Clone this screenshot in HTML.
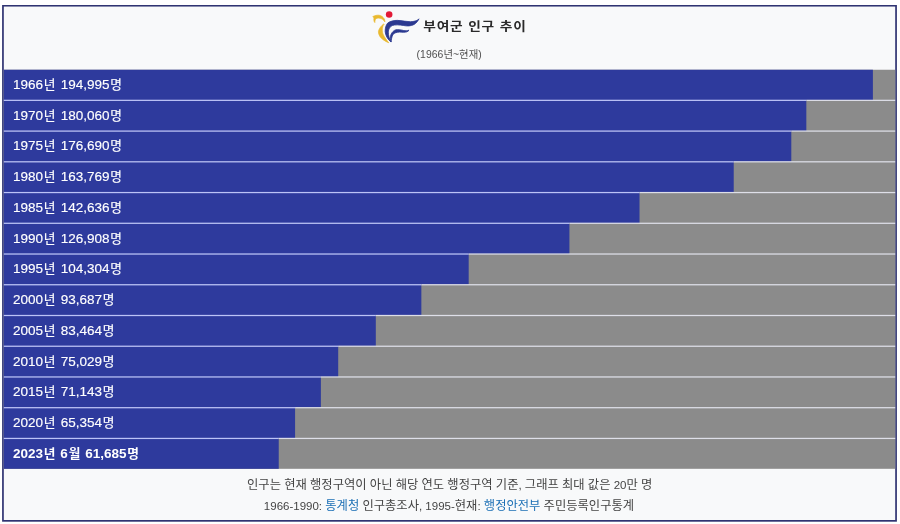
<!DOCTYPE html>
<html lang="ko"><head><meta charset="utf-8"><title>부여군 인구 추이</title>
<style>
html,body{margin:0;padding:0;background:#fff;}
body{width:900px;height:524px;position:relative;overflow:hidden;font-family:"Liberation Sans","Noto Sans CJK KR",sans-serif;}
#chart{position:absolute;left:0;top:0;}
.lbl{position:absolute;left:12.9px;height:29.3px;line-height:29.3px;color:#fff;font-size:13.5px;word-spacing:1.2px;white-space:nowrap;-webkit-text-stroke:0.15px #fff;}
.lbl .k{font-size:12.7px;margin-left:0.75px;letter-spacing:0.45px;}
.b{font-weight:bold;word-spacing:0.8px;-webkit-text-stroke:0;}
#title{position:absolute;left:423.2px;top:16.2px;font-size:13.7px;font-weight:bold;color:#2a2a2a;line-height:22px;white-space:nowrap;letter-spacing:0.85px;transform:scaleY(0.9);transform-origin:left center;}
#sub{position:absolute;left:-0.8px;width:900px;text-align:center;top:47.5px;font-size:10.4px;color:#505050;line-height:14px;letter-spacing:0.05px;}
.ft{position:absolute;left:0;width:900px;text-align:center;font-size:11.5px;color:#444;line-height:16px;white-space:nowrap;}
.ft a{color:#1b6fb5;text-decoration:none;}
.ft .k{font-size:12.3px;}
</style></head><body>
<svg id="chart" width="900" height="524" viewBox="0 0 900 524">
<rect x="2.1" y="5.0" width="894.80" height="516.70" fill="#2f3372"/>
<rect x="3.80" y="6.55" width="891.40" height="513.45" fill="#f8f9fa"/>
<rect x="3.80" y="69.75" width="891.40" height="399.05" fill="#8b8b8b"/>
<rect x="3.80" y="69.75" width="869.09" height="30.60" fill="#2e3a9d"/>
<rect x="3.80" y="100.35" width="802.53" height="30.73" fill="#2e3a9d"/>
<rect x="3.80" y="131.08" width="787.51" height="30.74" fill="#2e3a9d"/>
<rect x="3.80" y="161.82" width="729.92" height="30.74" fill="#2e3a9d"/>
<rect x="3.80" y="192.56" width="635.73" height="30.73" fill="#2e3a9d"/>
<rect x="3.80" y="223.29" width="565.63" height="30.74" fill="#2e3a9d"/>
<rect x="3.80" y="254.03" width="464.88" height="30.73" fill="#2e3a9d"/>
<rect x="3.80" y="284.76" width="417.56" height="30.74" fill="#2e3a9d"/>
<rect x="3.80" y="315.50" width="372.00" height="30.74" fill="#2e3a9d"/>
<rect x="3.80" y="346.23" width="334.40" height="30.74" fill="#2e3a9d"/>
<rect x="3.80" y="376.97" width="317.08" height="30.74" fill="#2e3a9d"/>
<rect x="3.80" y="407.70" width="291.28" height="30.73" fill="#2e3a9d"/>
<rect x="3.80" y="438.43" width="274.93" height="30.37" fill="#2e3a9d"/>
<rect x="3.80" y="99.72" width="802.53" height="1.25" fill="#bcc3f7"/>
<rect x="806.33" y="99.72" width="88.87" height="1.25" fill="#dedfe8"/>
<rect x="3.80" y="130.46" width="787.51" height="1.25" fill="#bcc3f7"/>
<rect x="791.31" y="130.46" width="103.89" height="1.25" fill="#dedfe8"/>
<rect x="3.80" y="161.19" width="729.92" height="1.25" fill="#bcc3f7"/>
<rect x="733.72" y="161.19" width="161.48" height="1.25" fill="#dedfe8"/>
<rect x="3.80" y="191.93" width="635.73" height="1.25" fill="#bcc3f7"/>
<rect x="639.53" y="191.93" width="255.67" height="1.25" fill="#dedfe8"/>
<rect x="3.80" y="222.66" width="565.63" height="1.25" fill="#bcc3f7"/>
<rect x="569.43" y="222.66" width="325.77" height="1.25" fill="#dedfe8"/>
<rect x="3.80" y="253.40" width="464.88" height="1.25" fill="#bcc3f7"/>
<rect x="468.68" y="253.40" width="426.52" height="1.25" fill="#dedfe8"/>
<rect x="3.80" y="284.13" width="417.56" height="1.25" fill="#bcc3f7"/>
<rect x="421.36" y="284.13" width="473.84" height="1.25" fill="#dedfe8"/>
<rect x="3.80" y="314.87" width="372.00" height="1.25" fill="#bcc3f7"/>
<rect x="375.80" y="314.87" width="519.40" height="1.25" fill="#dedfe8"/>
<rect x="3.80" y="345.61" width="334.40" height="1.25" fill="#bcc3f7"/>
<rect x="338.20" y="345.61" width="557.00" height="1.25" fill="#dedfe8"/>
<rect x="3.80" y="376.34" width="317.08" height="1.25" fill="#bcc3f7"/>
<rect x="320.88" y="376.34" width="574.32" height="1.25" fill="#dedfe8"/>
<rect x="3.80" y="407.08" width="291.28" height="1.25" fill="#bcc3f7"/>
<rect x="295.08" y="407.08" width="600.12" height="1.25" fill="#dedfe8"/>
<rect x="3.80" y="437.81" width="274.93" height="1.25" fill="#bcc3f7"/>
<rect x="278.73" y="437.81" width="616.47" height="1.25" fill="#dedfe8"/>
</svg>
<svg id="logo" width="56" height="36" viewBox="0 0 815 524" style="position:absolute;left:368px;top:8px">
<circle cx="308" cy="95" r="48" fill="#e21a37"/>
<path d="M70,125 C100,108 130,103 160,105 C195,108 225,135 240,165 L246,202 C238,190 215,165 200,158 C175,145 135,143 115,155 C104,165 100,190 100,212 C88,205 82,170 86,150 C84,140 78,130 70,125 Z" fill="#e9b92f" stroke="#e9b92f" stroke-width="10" stroke-linejoin="round"/>
<path d="M228,233 C195,255 160,300 152,340 C148,390 185,440 225,465 C250,482 280,498 302,506 C275,475 235,420 218,380 C205,345 205,300 216,270 C220,255 228,243 236,238 Z" fill="#e9b92f" stroke="#e9b92f" stroke-width="10" stroke-linejoin="round"/>
<path d="M742,158 C725,180 690,195 620,200 C560,200 500,185 430,180 C380,178 320,195 288,218 C262,245 250,290 250,340 C252,400 290,460 332,492 C312,450 296,400 295,350 C296,310 320,270 352,255 C390,240 460,245 520,255 C570,265 620,265 670,240 C705,220 730,185 742,158 Z" fill="#2b3990" stroke="#2b3990" stroke-width="12" stroke-linejoin="round"/>
<path d="M597,323 C575,332 545,332 520,328 C490,320 440,312 408,316 C375,325 345,355 332,392 C322,430 325,470 336,496 C338,460 348,415 362,388 C380,362 420,352 462,350 C500,352 540,357 566,347 C580,340 590,332 597,323 Z" fill="#2b3990" stroke="#2b3990" stroke-width="12" stroke-linejoin="round"/>
</svg>
<div id="title">부여군 인구 추이</div>
<div id="sub">(1966년~현재)</div>
<div class="lbl" style="top:69.96px">1966<span class="k">년</span> 194,995<span class="k">명</span></div>
<div class="lbl" style="top:100.70px">1970<span class="k">년</span> 180,060<span class="k">명</span></div>
<div class="lbl" style="top:131.43px">1975<span class="k">년</span> 176,690<span class="k">명</span></div>
<div class="lbl" style="top:162.17px">1980<span class="k">년</span> 163,769<span class="k">명</span></div>
<div class="lbl" style="top:192.91px">1985<span class="k">년</span> 142,636<span class="k">명</span></div>
<div class="lbl" style="top:223.64px">1990<span class="k">년</span> 126,908<span class="k">명</span></div>
<div class="lbl" style="top:254.38px">1995<span class="k">년</span> 104,304<span class="k">명</span></div>
<div class="lbl" style="top:285.11px">2000<span class="k">년</span> 93,687<span class="k">명</span></div>
<div class="lbl" style="top:315.85px">2005<span class="k">년</span> 83,464<span class="k">명</span></div>
<div class="lbl" style="top:346.58px">2010<span class="k">년</span> 75,029<span class="k">명</span></div>
<div class="lbl" style="top:377.32px">2015<span class="k">년</span> 71,143<span class="k">명</span></div>
<div class="lbl" style="top:408.05px">2020<span class="k">년</span> 65,354<span class="k">명</span></div>
<div class="lbl b" style="top:438.78px">2023<span class="k">년</span> 6<span class="k">월</span> 61,685<span class="k">명</span></div>
<div class="ft" style="top:477.2px;left:-0.3px"><span class="k">인구는</span> <span class="k">현재</span> <span class="k">행정구역이</span> <span class="k">아닌</span> <span class="k">해당</span> <span class="k">연도</span> <span class="k">행정구역</span> <span class="k">기준</span>, <span class="k">그래프</span> <span class="k">최대</span> <span class="k">값은</span> 20<span class="k">만</span> <span class="k">명</span></div>
<div class="ft" style="top:498.2px;left:-1px">1966-1990: <a><span class="k">통계청</span></a> <span class="k">인구총조사</span>, 1995-<span class="k">현재</span>: <a><span class="k">행정안전부</span></a> <span class="k">주민등록인구통계</span></div>
</body></html>
